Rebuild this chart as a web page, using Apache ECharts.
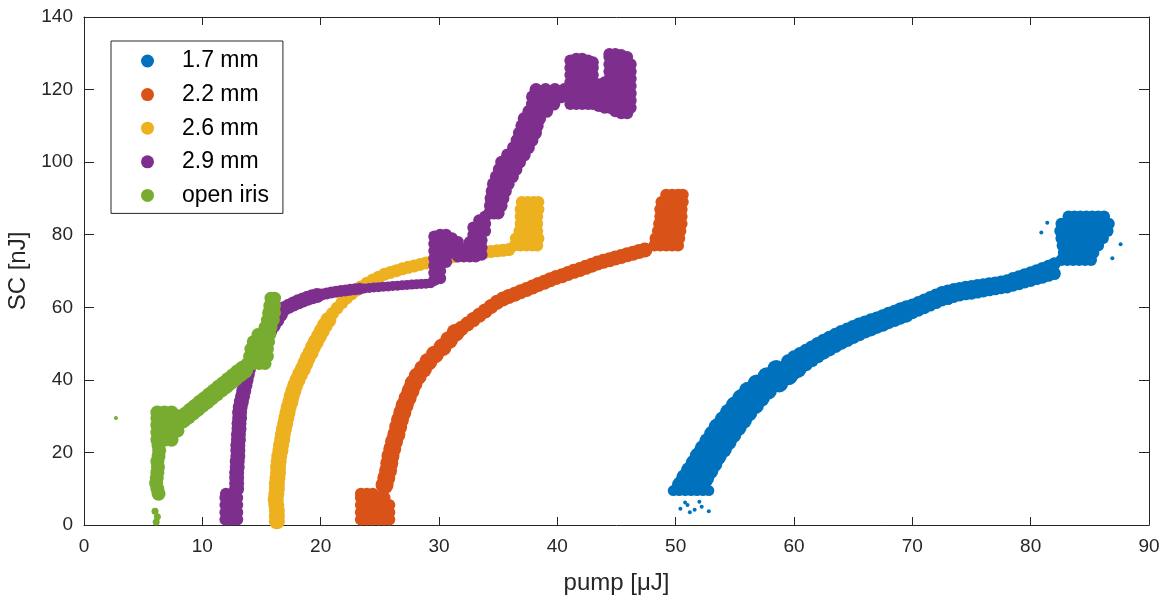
<!DOCTYPE html>
<html><head><meta charset="utf-8">
<script src="https://cdn.jsdelivr.net/npm/echarts@6/dist/echarts.min.js"></script>
<style>html,body{margin:0;padding:0;background:#fff}#c{width:1162px;height:597px}</style>
</head><body><div id="c"></div>
<script>
// ---- axis ranges / labels ----
const xName = 'pump [μJ]';
const yName = 'SC [nJ]';
const xMin = 0, xMax = 90, xStep = 10;
const yMin = 0, yMax = 140, yStep = 20;
const seriesNames = ['1.7 mm', '2.2 mm', '2.6 mm', '2.9 mm', 'open iris'];

// ---- 1.7 mm (blue) ----
const blueBottom = [[49.8,9.5],[50.3,9.5],[50.8,9.5],[51.3,9.5],[51.8,9.5],[52.3,9.5],[52.8,9.5]];
const blueLower = [
  [50.45,11],[51.3,11],[52.2,11],
  [50.8,13],[51.7,13],[52.5,13],
  [51.2,15],[52,15],[52.85,15],
  [51.6,17],[52.4,17],[53.2,17],
  [51.95,19],[52.75,19],[53.55,19],
  [52.35,21],[53.15,21],[54,21],
  [52.75,23],[53.6,23],[54.4,23],
  [53.15,25],[54,25],[54.8,25],
  [53.55,27],[54.4,27],[55.25,27],
  [54.05,29],[54.85,29],[55.7,29],
  [54.5,31],[55.35,31],[56.15,31],
  [55,33],[55.85,33],[56.7,33],
  [55.55,35],[56.35,35],[57.2,35],
  [56.1,37],[56.95,37],[57.8,37],
  [56.85,39],[57.8,39],[58.75,39],
  [57.7,41],[58.6,41],[59.55,41],
  [58.5,43],[59.4,43],[60.3,43]
];
const blueUpper = [
  [59.5,40.8],[59.5,43],[59.5,45.1],
  [60,41.9],[60,44],[60,46.2],
  [60.5,43.1],[60.5,45.1],[60.5,47.1],
  [61,44.3],[61,46.2],[61,48],
  [61.5,45.4],[61.5,47.15],[61.5,48.9],
  [62,46.5],[62,48.2],[62,49.9],
  [62.5,47.5],[62.5,49.15],[62.5,50.8],
  [63,48.4],[63,50],[63,51.6],
  [63.5,49.3],[63.5,50.85],[63.5,52.4],
  [64,50.2],[64,51.7],[64,53.2],
  [64.5,50.95],[64.5,52.4],[64.5,53.85],
  [65,51.8],[65,53.2],[65,54.6],
  [65.5,52.55],[65.5,53.9],[65.5,55.25],
  [66,53.3],[66,54.55],[66,55.8],
  [66.5,53.9],[66.5,55.15],[66.5,56.4],
  [67,54.6],[67,55.75],[67,56.9],
  [67.5,55.2],[67.5,56.4],[67.5,57.55],
  [68,55.9],[68,57.05],[68,58.2],
  [68.5,56.5],[68.5,57.65],[68.5,58.8],
  [69,57.15],[69,58.3],[69,59.45],
  [69.5,57.7],[69.5,58.85],[69.5,60]
];
const blueTail = [
  [70,58.5],[70,60.6],[70.5,59.2],[70.5,61.3],
  [71,59.9],[71,62],[71.5,60.6],[71.5,62.7],
  [72,61.3],[72,63.4],[72.5,62],[72.5,64.1],
  [73,62.4],[73,64.5],[73.5,63],[73.5,64.9],
  [74,63.4],[74,65.2],[74.5,63.7],[74.5,65.5],
  [75,63.9],[75,65.7],[75.5,64.2],[75.5,66],
  [76,64.5],[76,66.2],[76.5,64.8],[76.5,66.5],
  [77,65.1],[77,66.7],[77.5,65.4],[77.5,67],
  [78,65.6],[78,67.3],[78.5,66.1],[78.5,67.9],
  [79,66.5],[79,68.4],[79.5,67],[79.5,69],
  [80,67.4],[80,69.5],[80.5,67.9],[80.5,70.1],
  [81,68.3],[81,70.7],[81.5,68.8],[81.5,71.3],
  [82,69.3],[82,72]
];
const blueCluster = [
  [82.6,73],[83.1,73],[83.6,73],[84.1,73],[84.6,73],[85.1,73],
  [82.8,75],[83.3,75],[83.8,75],[84.3,75],[84.8,75],[85.3,75],
  [82.7,77],[83.2,77],[83.7,77],[84.2,77],[84.7,77],[85.2,77],[85.7,77],
  [82.6,79],[83.1,79],[83.6,79],[84.1,79],[84.6,79],[85.1,79],[85.6,79],[86.1,79],
  [82.5,81],[83,81],[83.5,81],[84,81],[84.5,81],[85,81],[85.5,81],[86,81],[86.5,81],
  [82.6,83],[83.1,83],[83.6,83],[84.1,83],[84.6,83],[85.1,83],[85.6,83],[86.1,83],[86.6,83],
  [83.2,85],[83.7,85],[84.2,85],[84.7,85],[85.2,85],[85.7,85],[86.2,85]
];
const blueSparse = [[50.4,4.5],[51,5.5],[51.6,4.2],[52.2,5],[52.8,3.8],[51.2,3.5],[50.8,6.2],[52,6.4],[87.6,77.4],[80.9,80.6],[81.4,83.3],[86.9,73.5]];

// ---- 2.2 mm (orange) ----
const orangeBase = [
  [23.4,1.5],[23.9,1.5],[24.4,1.5],[24.9,1.5],[25.4,1.5],[25.8,1.5],
  [23.4,3.5],[23.9,3.5],[24.4,3.5],[24.9,3.5],[25.4,3.5],[25.8,3.5],
  [23.4,5.5],[23.9,5.5],[24.4,5.5],[24.9,5.5],[25.4,5.5],[25.8,5.5],
  [23.4,7.5],[23.9,7.5],[24.4,7.5],[24.9,7.5],[25.4,7.5],
  [23.4,8.6],[23.9,8.6],[24.4,8.6]
];
const orangeColumn = [[25.4,11],[25.55,13],[25.7,15],[25.8,17],[25.9,19],[26.05,21],[26.2,23],[26.4,25],[26.55,27],[26.7,29],[26.9,31],[27.1,33],[27.35,35],[27.6,37],[27.85,39],[28.2,41],[28.65,43],[29.1,45],[29.65,47],[30.3,49],[30.85,51],[31.4,53]];
const orangeUpper = [[31.9,54.2],[32.4,55.4],[32.9,56.6],[33.4,57.8],[33.9,59],[34.4,60.2],[34.9,61.4],[35.4,62.3],[35.9,63],[36.4,63.6],[36.9,64.3],[37.4,64.9],[37.9,65.6],[38.4,66.3],[38.9,66.9],[39.4,67.6],[39.9,68.2],[40.4,68.7],[40.9,69.3],[41.4,69.9],[41.9,70.4],[42.4,71],[42.9,71.6],[43.4,72.2],[43.9,72.7],[44.4,73.1],[44.9,73.6],[45.4,74],[45.9,74.5],[46.4,74.9],[46.9,75.4],[47.4,75.8]];
const orangeClump = [
  [48.2,77],[48.7,77],[49.2,77],[49.7,77],[50.2,77],
  [48.3,79],[48.8,79],[49.3,79],[49.8,79],[50.3,79],
  [48.5,81],[49,81],[49.5,81],[50,81],[50.4,81],
  [48.6,83],[49.1,83],[49.6,83],[50.1,83],[50.5,83],
  [48.7,85],[49.2,85],[49.7,85],[50.2,85],[50.5,85],
  [48.7,87],[49.2,87],[49.7,87],[50.2,87],[50.5,87],
  [48.8,89],[49.3,89],[49.8,89],[50.3,89],[50.6,89],
  [49.2,91],[49.7,91],[50.2,91],[50.6,91]
];

// ---- 2.6 mm (yellow) ----
const yellowLow = [[16.3,1],[16.3,2.5],[16.3,4],[16.25,5.5],[16.2,7],[16.25,8.5],[16.3,10],[16.3,11.5],[16.35,13],[16.4,14.5],[16.4,16],[16.45,17.5],[16.5,19],[16.6,20.5],[16.65,22],[16.75,23.5],[16.8,25],[16.9,26.5],[17,28],[17.1,29.5],[17.2,31],[17.3,32.5],[17.45,34],[17.55,35.5],[17.7,37],[17.85,38.5],[18.05,40],[18.25,41.5],[18.5,43],[18.7,44.5],[18.9,46],[19.15,47.5],[19.35,49],[19.6,50.5],[19.85,52],[20.1,53.5],[20.35,55],[20.65,56.5]];
const yellowHigh = [[21,58.3],[21.4,59.8],[21.8,61.3],[22.2,62.6],[22.6,63.7],[23,64.7],[23.4,65.6],[23.9,66.6],[24.4,67.5],[24.9,68.3],[25.4,69.1],[25.9,69.6],[26.4,70.1],[26.9,70.6],[27.4,71],[27.9,71.4],[28.4,71.8],[28.9,72.2],[29.4,72.6],[29.9,73],[30.4,73.35],[30.9,73.7],[31.4,74],[31.9,74.3],[32.4,74.55],[32.9,74.8],[33.4,75],[33.9,75.2],[34.4,75.4],[34.9,75.55],[35.4,75.7],[35.9,75.9]];
const yellowClump = [
  [36.4,77],[36.9,77],[37.4,77],[37.9,77],[38.3,77],
  [36.5,79],[37,79],[37.5,79],[38,79],[38.4,79],
  [36.8,81],[37.3,81],[37.8,81],[38.3,81],
  [36.9,83],[37.4,83],[37.9,83],[38.3,83],
  [36.9,85],[37.4,85],[37.9,85],[38.3,85],
  [36.9,87],[37.4,87],[37.9,87],[38.4,87],
  [37,89],[37.5,89],[38,89],[38.4,89]
];

// ---- 2.9 mm (purple) ----
const purpleBase = [
  [11.95,1.5],[12.45,1.5],[12.95,1.5],
  [11.95,3.5],[12.45,3.5],[12.95,3.5],
  [11.95,5.5],[12.45,5.5],[12.95,5.5],
  [11.95,7.5],[12.45,7.5],[12.95,7.5],
  [12.0,8.6],[12.5,8.6]
];
const purpleColumn = [[12.9,10],[12.9,11.5],[12.9,13],[12.9,14.5],[12.95,16],[12.95,17.5],[13,19],[13,20.5],[13,22],[13.05,23.5],[13.05,25],[13.1,26.5],[13.1,28],[13.15,29.5],[13.15,31],[13.2,32.5],[13.3,34],[13.4,35.5],[13.5,37],[13.6,38.5],[13.7,40],[13.8,41.5],[13.9,43],[14.05,44.5],[14.3,46],[14.55,47.5],[14.8,49],[15.1,50.5],[15.4,52],[15.7,53.5],[16,55],[16.3,56.5],[16.6,58]];
const purpleArcA = [[16.9,59.6],[17.3,60.3],[17.7,60.9],[18.1,61.5],[18.5,62],[18.9,62.5],[19.3,62.9],[19.7,63.25]];
const purpleArcB = [[20.1,63.55],[20.5,63.8],[20.9,64.05],[21.3,64.3],[21.7,64.5],[22.1,64.65],[22.5,64.8],[22.9,64.95],[23.3,65.1]];
const purpleArcC = [[23.7,65.2],[24.1,65.3],[24.5,65.45],[24.9,65.55],[25.3,65.65],[25.7,65.75],[26.1,65.85],[26.5,65.95],[26.9,66.05],[27.3,66.15],[27.7,66.25],[28.1,66.35],[28.5,66.45],[28.9,66.5],[29.3,66.6]];
const purpleSteps = [
  [29.6,67.5],[29.6,69.5],[29.6,71.5],[29.6,73.5],[29.6,75.5],[29.6,77.5],[29.6,79.5],
  [30.1,68],[30.1,70],[30.1,72],[30.1,74],[30.1,76],[30.1,78],[30.1,80],
  [30.6,72.5],[30.6,74.5],[30.6,76.5],[30.6,78.5],[30.6,80],
  [31.1,75],[31.1,77],[31.1,79],
  [31.6,74],[31.6,76],[31.6,78],
  [32.1,74],[32.1,76],
  [32.6,74],[32.6,76],[32.6,78],
  [33.1,74],[33.1,76],[33.1,78],
  [33.6,74.5],[33.6,76.5],[33.6,78.5],
  [32.9,80],[32.9,82],
  [33.4,80.5],[33.4,82.5],[33.4,84],
  [33.9,81],[33.9,83],[33.9,85]
];
const purpleRise = [
  [34.3,86],[34.65,86],[35,86],
  [34.35,88],[34.8,88],[35.25,88],
  [34.4,90],[34.9,90],[35.4,90],
  [34.5,92],[35.05,92],[35.6,92],
  [34.6,94],[35.2,94],[35.85,94],
  [34.85,96],[35.55,96],[36.2,96],
  [35.1,98],[35.8,98],[36.5,98],
  [35.3,100],[36.05,100],[36.8,100],
  [35.8,102],[36.5,102],[37.2,102],
  [36.3,104],[36.95,104],[37.55,104],
  [36.6,106],[37.25,106],[37.85,106],
  [36.8,108],[37.5,108],[38.15,108],
  [37,110],[37.65,110],[38.3,110],
  [37.2,112],[37.85,112],[38.5,112],
  [37.6,114],[38.35,114],[39.1,114],
  [37.9,116],[38.8,116],[39.7,116],
  [37.9,118],[38.7,118],[39.5,118],[40.3,118],
  [38.2,120],[39,120],[39.8,120],[40.6,120]
];
const purpleTop = [
  [41.1,116],[41.1,118],[41.1,120],[41.1,122],[41.1,124],[41.1,126],[41.1,128],
  [41.6,116],[41.6,118],[41.6,120],[41.6,122],[41.6,124],[41.6,126],[41.6,128.5],
  [42.1,116],[42.1,118],[42.1,120],[42.1,122],[42.1,124],[42.1,126],[42.1,128.5],
  [42.6,116],[42.6,118],[42.6,120],[42.6,122],[42.6,124],[42.6,126],[42.6,128],
  [43,116],[43,118],[43,120],[43,122],[43,124],[43,126],[43,127.5],
  [43.5,115.5],[43.5,117.5],[43.5,119.5],[43.5,121.5],
  [44,115],[44,117],[44,119],[44,121],[44,122],
  [44.4,115],[44.4,117],[44.4,119],[44.4,121],[44.4,123],[44.4,125],[44.4,127],[44.4,129],[44.4,129.8],
  [44.9,114],[44.9,116],[44.9,118],[44.9,120],[44.9,122],[44.9,124],[44.9,126],[44.9,128],[44.9,129.8],
  [45.4,113.5],[45.4,115.5],[45.4,117.5],[45.4,119.5],[45.4,121.5],[45.4,123.5],[45.4,125.5],[45.4,127.5],[45.4,129.5],
  [45.9,113.5],[45.9,115.5],[45.9,117.5],[45.9,119.5],[45.9,121.5],[45.9,123.5],[45.9,125.5],[45.9,127.5],[45.9,129],
  [46.2,115],[46.2,117],[46.2,119],[46.2,121],[46.2,123],[46.2,125],[46.2,127]
];

// ---- open iris (green) ----
const greenStub = [[6.1,0.8],[6.2,2.3],[6.0,3.8]];
const greenColumn = [
  [6.3,8.6],[6.2,10],[6.1,11.5],[6.15,13],[6.2,14.5],[6.25,16],[6.2,17.5],[6.3,19],[6.35,20.5],[6.3,22],
  [6.2,23.5],[6.8,23.5],[7.4,23.5],
  [6.2,25.5],[6.8,25.5],[7.4,25.5],[7.9,26],
  [6.2,27.5],[6.8,27.5],[7.4,27.5],[7.9,28],
  [6.2,29.5],[6.8,29.5],[7.4,29.5],[7.9,30],
  [6.2,31],[6.8,31],[7.4,31]
];
const greenDiag = [[8.3,29.2],[8.7,30.2],[9.1,31.3],[9.5,32.3],[9.9,33.4],[10.3,34.4],[10.7,35.5],[11.1,36.5],[11.5,37.6],[11.9,38.6],[12.3,39.7],[12.7,40.7],[13.1,41.8],[13.5,42.8]];
const greenTop = [
  [13.8,44.5],[14.3,44.5],[14.8,44.5],[15.3,44.5],
  [14,46.5],[14.5,46.5],[15,46.5],[15.5,46.5],
  [14.1,48.5],[14.6,48.5],[15.1,48.5],[15.5,48.5],
  [14.3,50.5],[14.8,50.5],[15.3,50.5],[15.6,50.5],
  [14.7,52.5],[15.2,52.5],[15.7,52.5],
  [15.3,54.5],[15.8,54.5],
  [15.5,56.5],[16,56.5],
  [15.6,58.5],[16.1,58.5],
  [15.7,60.5],[16.1,60.5],
  [15.8,62.5],[16.1,62.5]
];
const greenSparse = [[2.7,29.5]];

// ---- styling ----
const colors = ['#0072BD', '#D95319', '#EDB120', '#7E2F8E', '#77AC30'];
const ink = '#262626';
const font = "'Liberation Sans', Arial, Helvetica, sans-serif";

function sc(idx, data, size) {
  return {
    type: 'scatter', name: seriesNames[idx], data: data,
    symbol: 'circle', symbolSize: size,
    itemStyle: { color: colors[idx], opacity: 1 },
    emphasis: { disabled: true },
    xAxisIndex: 0, yAxisIndex: 0, silent: true
  };
}

const series = [
  sc(0, blueBottom, 11), sc(0, blueLower, 18), sc(0, blueUpper, 14), sc(0, blueTail, 13), sc(0, blueCluster, 12), sc(0, blueSparse, 4),
  sc(1, orangeBase, 12), sc(1, orangeColumn, 18), sc(1, orangeUpper, 15), sc(1, orangeClump, 12),
  sc(2, yellowLow, 16), sc(2, yellowHigh, 13), sc(2, yellowClump, 12),
  sc(3, purpleBase, 12), sc(3, purpleColumn, 15), sc(3, purpleArcA, 15), sc(3, purpleArcB, 12), sc(3, purpleArcC, 10),
  sc(3, purpleSteps, 12), sc(3, purpleRise, 13), sc(3, purpleTop, 12),
  sc(4, greenStub, 7), sc(4, greenColumn, 14), sc(4, greenDiag, 19), sc(4, greenTop, 13), sc(4, greenSparse, 4)
];

const axisLine = { show: true, onZero: false, lineStyle: { color: ink, width: 1 } };

const chart = echarts.init(document.getElementById('c'), null, { renderer: 'canvas' });
chart.setOption({
  animation: false,
  backgroundColor: '#fff',
  color: colors,
  textStyle: { fontFamily: font },
  grid: { left: 84, right: 13, top: 17, bottom: 72, containLabel: false, outerBoundsMode: 'none' },
  legend: {
    data: seriesNames.map(n => ({ name: n, icon: 'circle' })),
    orient: 'vertical', left: 111, top: 41,
    padding: [8, 14, 6, 30], itemGap: 9.6,
    itemWidth: 13, itemHeight: 13,
    borderColor: ink, borderWidth: 1, backgroundColor: '#fff',
    textStyle: { fontSize: 23, color: '#000', fontFamily: font, lineHeight: 24, padding: [0, 0, 0, 23] },
    selectedMode: false
  },
  xAxis: [
    { type: 'value', min: xMin, max: xMax, interval: xStep, position: 'bottom',
      name: xName, nameLocation: 'middle', nameGap: 46,
      nameTextStyle: { fontSize: 24, color: ink, fontFamily: font },
      axisLine: axisLine, axisTick: { show: true, inside: true, length: 8, lineStyle: { color: ink } },
      axisLabel: { fontSize: 19, color: ink, margin: 12, fontFamily: font },
      splitLine: { show: false } },
    { type: 'value', min: xMin, max: xMax, interval: xStep, position: 'top',
      axisLine: axisLine, axisTick: { show: true, inside: true, length: 8, lineStyle: { color: ink } },
      axisLabel: { show: false }, splitLine: { show: false } }
  ],
  yAxis: [
    { type: 'value', min: yMin, max: yMax, interval: yStep, position: 'left',
      name: yName, nameLocation: 'middle', nameGap: 52,
      nameTextStyle: { fontSize: 24, color: ink, fontFamily: font },
      axisLine: axisLine, axisTick: { show: true, inside: true, length: 10, lineStyle: { color: ink } },
      axisLabel: { fontSize: 19, color: ink, margin: 11, fontFamily: font },
      splitLine: { show: false } },
    { type: 'value', min: yMin, max: yMax, interval: yStep, position: 'right',
      axisLine: axisLine, axisTick: { show: true, inside: true, length: 10, lineStyle: { color: ink } },
      axisLabel: { show: false }, splitLine: { show: false } }
  ],
  series: series
});
</script></body></html>
